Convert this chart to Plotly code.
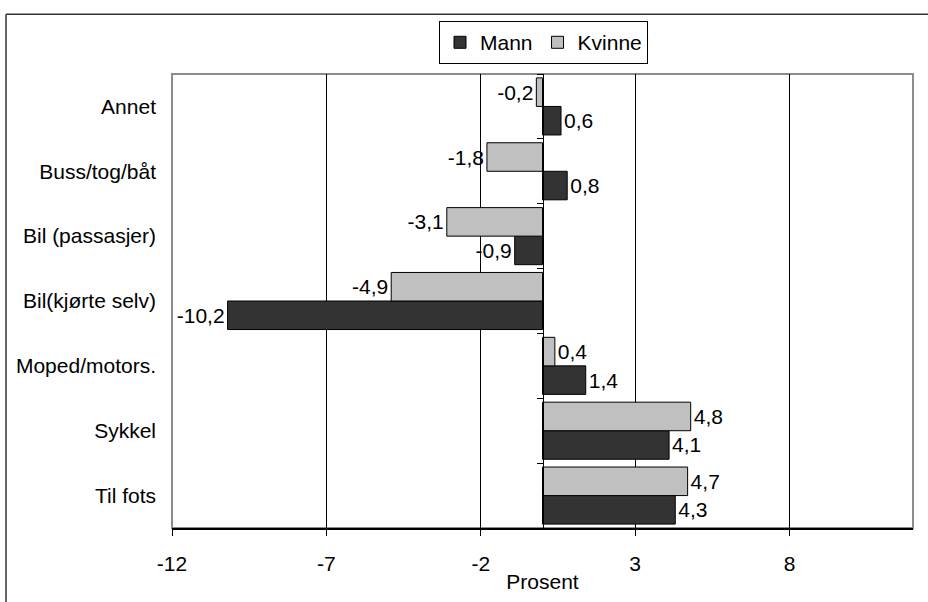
import plotly.graph_objects as go

# Endring i reisemiddelfordeling, menn og kvinner (prosentpoeng)
categories = ["Annet", "Buss/tog/båt", "Bil (passasjer)", "Bil(kjørte selv)",
              "Moped/motors.", "Sykkel", "Til fots"]
mann = [0.6, 0.8, -0.9, -10.2, 1.4, 4.1, 4.3]
kvinne = [-0.2, -1.8, -3.1, -4.9, 0.4, 4.8, 4.7]
x_ticks = [-12, -7, -2, 3, 8]

W, H = 928, 602
L, R, T, B = 172, 913, 73.5, 533
FONT = dict(family="Liberation Sans, Arial, sans-serif", size=21, color="black")


def px_x(p):
    return (p - L) / (R - L)


def px_y(p):
    return (B - p) / (B - T)


def fmt(v):
    return f"{v:.1f}".replace(".", ",")


fig = go.Figure()
fig.add_trace(go.Bar(
    name="Mann", y=categories, x=mann, orientation="h",
    marker=dict(color="#333333", line=dict(color="black", width=1)),
    text=[fmt(v) for v in mann], textposition="outside",
    textfont=FONT, constraintext="none", cliponaxis=False,
))
fig.add_trace(go.Bar(
    name="Kvinne", y=categories, x=kvinne, orientation="h",
    marker=dict(color="#C0C0C0", line=dict(color="black", width=1)),
    text=[fmt(v) for v in kvinne], textposition="outside",
    textfont=FONT, constraintext="none", cliponaxis=False,
))
# helper trace that carries the vertical zero axis with its category ticks
fig.add_trace(go.Scatter(
    y=categories, x=[0] * len(categories), yaxis="y2", mode="markers",
    marker=dict(opacity=0), showlegend=False, hoverinfo="skip",
))

fig.update_layout(
    width=W, height=H,
    margin=dict(l=L, r=W - R, t=T, b=H - B),
    paper_bgcolor="white", plot_bgcolor="white",
    font=FONT,
    barmode="group", bargap=0.12, bargroupgap=0,
    showlegend=True,
    legend=dict(
        orientation="h", x=px_x(543.5), xanchor="center",
        y=px_y(20), yanchor="top", traceorder="normal",
        bordercolor="black", borderwidth=1, bgcolor="white",
        font=FONT, itemwidth=30,
    ),
    xaxis=dict(
        range=[-12, 12], tickmode="array", tickvals=x_ticks,
        ticktext=[str(v) for v in x_ticks],
        showgrid=True, gridcolor="black", gridwidth=1,
        zeroline=False, showline=True, linecolor="black", linewidth=1.5,
        ticks="outside", ticklen=6, tickcolor="black",
        ticklabelstandoff=10, tickfont=FONT,
        title=dict(text="Prosent", font=FONT, standoff=0),
    ),
    yaxis=dict(
        type="category", categoryorder="array",
        categoryarray=categories[::-1],
        showgrid=False, zeroline=False, showline=False,
        ticks="", ticklabelstandoff=15, tickfont=FONT,
    ),
    yaxis2=dict(
        type="category", overlaying="y", matches="y",
        anchor="free", position=px_x(L + (R - L) * 0.5),
        showgrid=False, zeroline=False, showline=True,
        linecolor="black", linewidth=1,
        ticks="outside", ticklen=6, tickcolor="black",
        tickson="boundaries", showticklabels=False,
    ),
    shapes=[
        # plot area frame
        dict(type="rect", xref="paper", yref="paper", x0=0, x1=1, y0=0, y1=1,
             line=dict(color="#8c8c8c", width=2), layer="below"),
        # outer chart frame (top and left edges)
        dict(type="line", xref="paper", yref="paper",
             x0=px_x(6), x1=px_x(940), y0=px_y(13), y1=px_y(13),
             line=dict(color="#333333", width=1.5)),
        dict(type="line", xref="paper", yref="paper",
             x0=px_x(6), x1=px_x(6), y0=px_y(13), y1=px_y(610),
             line=dict(color="#333333", width=1.5)),
    ],
)

fig.write_html("out.html")
